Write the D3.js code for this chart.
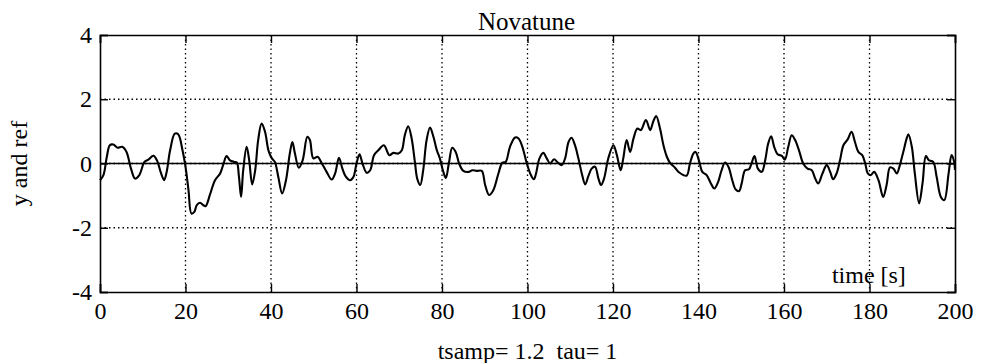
<!DOCTYPE html>
<html>
<head>
<meta charset="utf-8">
<script src="https://cdn.jsdelivr.net/npm/d3@7"></script>
<style>
  body { margin: 0; background: #fff; }
  svg { display: block; }
  svg text { font-family: "Liberation Serif", "Times New Roman", Times, serif; fill: #000; }
  .axis path, .axis line { stroke: #000; }
  .grid line { stroke: #000; stroke-width: 1.3; stroke-dasharray: 1.5,3; }
</style>
</head>
<body>
<svg id="chart" width="987" height="363"></svg>
<script>
// signal y (reference is 0)
const timeS = [
  0, 0.8, 1.6, 2.3, 3.1, 4.1, 5.2, 6.2, 7.25, 8.2, 9.2, 10.4, 11.3, 12.5, 13.3, 14.3, 15.0, 15.6, 16.4, 17.5,
  18.3, 19.3, 20.0, 20.7, 21.4, 22.1, 22.6, 23.4, 24.2, 24.7, 25.7, 26.9, 28.1, 28.8, 29.6, 30.4, 31.4, 32.0, 32.5, 33.0,
  33.5, 34.3, 34.9, 35.6, 36.3, 37.0, 37.8, 38.6, 39.4, 40.2, 40.9, 41.7, 42.6, 43.5, 44.4, 45.0, 45.6, 46.5, 47.4, 48.5,
  49.1, 49.9, 50.9, 51.9, 53.0, 54.2, 55.0, 55.9, 56.7, 57.5, 58.5, 59.3, 60.0, 60.7, 61.4, 62.4, 63.2, 64.1, 65.1, 66.4,
  67.7, 68.6, 69.8, 70.6, 71.3, 72.1, 72.9, 73.7, 74.2, 74.9, 75.6, 76.4, 77.2, 78.0, 78.8, 79.5, 80.2, 80.9, 81.6, 82.4,
  83.2, 84.0, 85.0, 86.2, 87.1, 88.1, 89.3, 90.1, 91.0, 92.0, 93.2, 94.1, 94.9, 95.9, 97.1, 97.9, 98.8, 99.8, 100.8, 101.5,
  102.0, 102.8, 103.7, 104.5, 105.3, 106.2, 107.1, 108.0, 108.8, 109.6, 110.3, 111.1, 111.9, 112.7, 113.5, 114.2, 115.0, 115.8, 116.6, 117.2,
  117.9, 118.9, 120.1, 120.9, 121.8, 122.4, 123.2, 124.0, 124.8, 125.7, 126.5, 127.7, 128.7, 129.4, 130.1, 131.0, 131.8, 132.6, 133.3, 134.5,
  135.5, 137.2, 138.0, 138.8, 139.3, 140.1, 140.9, 141.9, 142.9, 143.7, 144.6, 145.4, 146.2, 147.0, 147.9, 148.7, 149.5, 150.1, 150.9, 151.8,
  152.4, 153.1, 153.9, 154.8, 155.6, 156.3, 157.0, 157.7, 158.5, 159.5, 160.2, 161.0, 161.8, 162.6, 163.5, 164.5, 165.5, 166.5, 167.3, 168.0,
  169.0, 170.0, 170.8, 171.5, 172.3, 173.1, 173.9, 174.9, 175.8, 176.6, 177.4, 178.3, 179.0, 179.6, 180.3, 181.1, 182.1, 183.2, 184.0, 184.8,
  185.6, 186.4, 187.1, 187.9, 188.7, 189.1, 189.9, 190.6, 191.6, 192.4, 193.2, 193.9, 194.9, 195.7, 196.7, 197.5, 198.5, 199.2, 199.8, 200
];
const yOut = [
  -0.52, -0.36, 0.21, 0.57, 0.59, 0.49, 0.52, 0.36, -0.16, -0.47, -0.36, 0.05, 0.12, 0.24, 0.10, -0.31, -0.52, -0.26, 0.41, 0.93,
  0.91, 0.41, -0.10, -0.83, -1.56, -1.50, -1.30, -1.22, -1.30, -1.33, -0.98, -0.52, -0.31, -0.05, 0.23, 0.10, 0.05, 0.03, -0.41, -1.04,
  -0.21, 0.52, 0.10, -0.65, -0.21, 0.73, 1.24, 0.99, 0.41, 0.16, 0.05, -0.41, -0.93, -0.52, 0.31, 0.67, 0.31, -0.13, 0.10, 0.83,
  0.73, 0.16, 0.21, 0.00, -0.26, -0.50, -0.31, 0.18, -0.16, -0.41, -0.52, -0.41, 0.00, 0.29, 0.00, -0.29, -0.21, 0.26, 0.41, 0.57,
  0.26, 0.33, 0.31, 0.41, 0.88, 1.16, 0.78, 0.00, -0.47, -0.67, -0.21, 0.73, 1.12, 0.83, 0.41, 0.16, -0.21, -0.45, 0.00, 0.49,
  0.36, 0.00, -0.23, -0.26, -0.21, -0.23, -0.23, -0.67, -0.98, -0.83, -0.31, 0.02, 0.05, 0.52, 0.81, 0.78, 0.52, 0.02, -0.36, -0.49,
  -0.31, 0.16, 0.33, 0.16, 0.00, 0.13, 0.03, -0.05, 0.16, 0.67, 0.80, 0.57, 0.16, -0.31, -0.65, -0.41, -0.16, -0.10, -0.47, -0.67,
  -0.47, 0.16, 0.57, 0.26, -0.21, 0.16, 0.73, 0.36, 0.78, 1.09, 1.04, 1.35, 1.04, 1.30, 1.48, 1.09, 0.57, 0.21, 0.03, -0.13,
  -0.28, -0.38, 0.00, 0.31, 0.36, 0.10, -0.26, -0.36, -0.62, -0.78, -0.57, -0.21, 0.03, -0.10, -0.52, -0.81, -0.86, -0.62, -0.21, -0.18,
  0.00, 0.23, -0.16, -0.26, 0.10, 0.62, 0.85, 0.52, 0.29, 0.24, 0.12, 0.52, 0.88, 0.73, 0.41, 0.00, -0.16, -0.21, -0.47, -0.62,
  -0.31, -0.05, -0.26, -0.49, -0.31, 0.10, 0.57, 0.75, 0.99, 0.67, 0.36, 0.26, 0.00, -0.31, -0.36, -0.26, -0.52, -1.04, -0.67, -0.12,
  -0.16, -0.31, -0.05, 0.36, 0.78, 0.91, 0.52, -0.31, -1.24, -0.62, 0.23, 0.10, 0.05, -0.41, -1.04, -1.14, -0.31, 0.26, 0.05, -0.20
];
const refValue = 0;

const xTicks = [0, 20, 40, 60, 80, 100, 120, 140, 160, 180, 200];
const yTicks = [-4, -2, 0, 2, 4];

const titleText = "Novatune";
const xLabelText = "time [s]";
const yLabelText = "y and ref";
const noteText = "tsamp= 1.2  tau= 1";

const svg = d3.select("#chart");
const margin = { top: 35, right: 32, bottom: 71, left: 100 };
const width = 987, height = 363;
const innerW = width - margin.left - margin.right;
const innerH = height - margin.top - margin.bottom;

const x = d3.scaleLinear().domain([0, 200]).range([0, innerW]);
const y = d3.scaleLinear().domain([-4, 4]).range([innerH, 0]);

svg.append("rect").attr("width", width).attr("height", height).attr("fill", "#fff");

const g = svg.append("g").attr("transform", `translate(${margin.left},${margin.top})`);

// dotted grid
const grid = g.append("g").attr("class", "grid");
grid.selectAll("line.vx")
  .data(xTicks.slice(1, -1))
  .join("line")
  .attr("class", "vx")
  .attr("x1", d => x(d)).attr("x2", d => x(d))
  .attr("y1", 0).attr("y2", innerH);
grid.selectAll("line.hy")
  .data(yTicks.slice(1, -1))
  .join("line")
  .attr("class", "hy")
  .attr("x1", 0).attr("x2", innerW)
  .attr("y1", d => y(d)).attr("y2", d => y(d));

// axes, ticks pointing inwards; plain hyphen for negatives
const fmt = d => String(d);
g.append("g").attr("class", "axis")
  .attr("transform", `translate(0,${innerH})`)
  .call(d3.axisBottom(x).tickValues(xTicks).tickFormat(fmt).tickSize(-8).tickPadding(10));
g.append("g").attr("class", "axis")
  .call(d3.axisLeft(y).tickValues(yTicks).tickFormat(fmt).tickSize(-8).tickPadding(8));
g.append("g").attr("class", "axis")
  .call(d3.axisTop(x).tickValues(xTicks).tickFormat("").tickSize(-8));
g.append("g").attr("class", "axis")
  .attr("transform", `translate(${innerW},0)`)
  .call(d3.axisRight(y).tickValues(yTicks).tickFormat("").tickSize(-8));
g.selectAll(".axis").attr("font-family", null).attr("font-size", null);
g.selectAll(".axis text").attr("font-size", 24);
g.selectAll(".axis path").attr("stroke-width", 1.6);
g.selectAll(".axis line").attr("stroke-width", 1.4);

// reference line
g.append("line")
  .attr("x1", x(0)).attr("x2", x(200))
  .attr("y1", y(refValue)).attr("y2", y(refValue))
  .attr("stroke", "#000").attr("stroke-width", 1.5);

// output signal
const series = timeS.map((t, i) => ({ t, v: yOut[i] }));
const line = d3.line()
  .x(d => x(d.t))
  .y(d => y(d.v))
  .curve(d3.curveCatmullRom.alpha(0.5));
g.append("path")
  .datum(series)
  .attr("fill", "none")
  .attr("stroke", "#000")
  .attr("stroke-width", 2.1)
  .attr("stroke-linejoin", "round")
  .attr("d", line);

// texts
svg.append("text")
  .attr("x", margin.left + innerW / 2 - 1).attr("y", 30)
  .attr("text-anchor", "middle").attr("font-size", 25)
  .text(titleText);

g.append("text")
  .attr("x", x(171.2)).attr("y", y(-3.72))
  .attr("font-size", 24)
  .text(xLabelText);

svg.append("text")
  .attr("transform", `translate(27,${margin.top + innerH / 2}) rotate(-90)`)
  .attr("text-anchor", "middle").attr("font-size", 24)
  .text(yLabelText);

svg.append("text")
  .attr("x", margin.left + innerW / 2).attr("y", 359)
  .attr("text-anchor", "middle").attr("font-size", 24)
  .attr("xml:space", "preserve")
  .style("white-space", "pre")
  .text(noteText);
</script>
</body>
</html>
